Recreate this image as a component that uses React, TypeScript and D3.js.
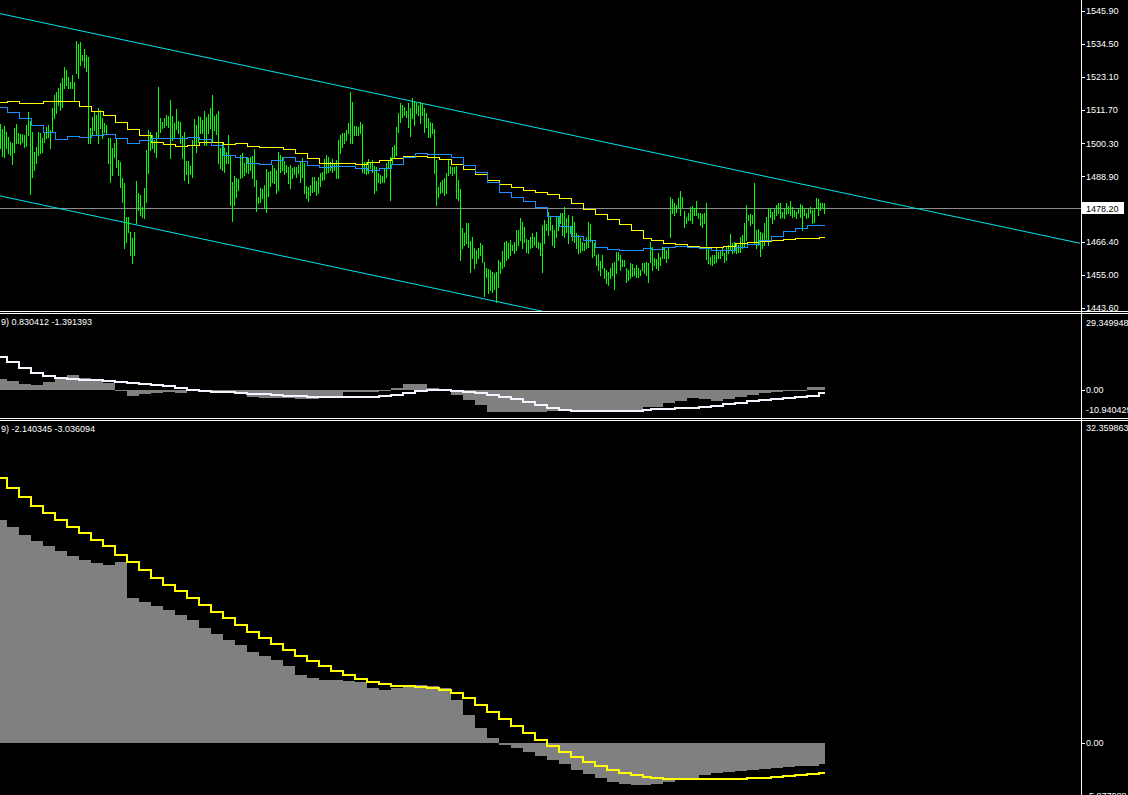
import React, { useEffect } from 'react';
import * as d3 from 'd3';

// ---------- DATA ----------
// Price bars (M5-like), high / low per bar
const HIGH = [
1506.9,1505.2,1506.3,1504.3,1502.6,1500.9,1500.4,1505.5,1506.9,1503.8,
1503.4,1503.6,1503.2,1506.7,1511.2,1508.0,1504.3,1497.5,1499.2,1504.3,
1503.8,1502.1,1504.3,1506.1,1506.7,1504.9,1512.4,1517.0,1518.1,1519.3,
1521.0,1522.7,1526.7,1525.6,1523.3,1521.6,1523.9,1521.6,1535.6,1534.4,
1535.3,1530.8,1532.8,1530.8,1530.2,1505.5,1509.5,1511.2,1510.1,1512.4,
1511.8,1509.0,1507.2,1506.7,1502.1,1502.1,1498.6,1500.4,1502.1,1494.6,
1494.0,1488.3,1486.6,1475.1,1475.1,1469.9,1467.6,1469.9,1487.4,1483.1,
1482.5,1478.5,1484.9,1498.0,1504.9,1504.3,1503.2,1501.5,1504.3,1519.8,
1509.0,1507.8,1509.2,1510.1,1509.7,
1515.3,1509.7,1507.4,1512.2,1508.1,1507.8,1502.9,1504.3,1494.3,1494.3,
1492.5,1501.5,1508.7,1506.7,1509.7,1509.5,1508.4,1511.5,1509.5,1510.3,
1512.4,1517.0,1509.7,1510.3,1511.5,1498.6,1500.4,1498.6,1497.5,1503.2,
1496.0,1487.1,1489.1,1488.3,1488.0,1496.3,1496.9,1493.5,1495.5,1495.2,
1495.7,1496.0,1498.3,1487.7,1482.0,1484.9,1484.5,1486.0,1491.4,1490.6,
1490.9,1492.9,1491.7,1491.2,1497.5,1496.3,1495.7,1494.3,1492.9,1492.3,
1492.9,1491.7,1492.1,1492.3,1492.9,1494.0,1495.2,1493.5,1485.6,1485.2,
1486.0,1488.8,1488.8,1487.5,1488.6,1490.2,1490.6,1494.8,1496.3,1495.7,
1494.0,1494.8,1493.5,
1494.6,1501.5,1503.2,1503.8,1504.0,1504.9,1507.2,1518.0,1514.6,1506.3,
1506.3,1506.1,1507.8,1507.0,1494.0,1494.0,1494.8,1493.7,1494.6,1492.5,
1492.3,1490.0,1489.4,1489.1,1491.7,1493.5,1494.6,1495.7,1499.2,1499.8,
1506.1,1510.7,1514.1,1513.5,1513.0,1511.6,1514.3,1512.4,1515.8,1514.7,
1514.1,1513.5,1514.7,1514.1,1512.4,1510.7,1509.0,1507.8,1507.4,1505.2,
1494.6,1485.4,1487.1,1487.7,1488.3,1490.0,1494.6,1492.5,1492.1,1492.1,
1492.5,1487.7,1484.5,1471.1,1469.4,1472.8,1472.8,1466.8,1468.2,1464.2,
1463.6,1464.2,1466.1,1465.3,1459.6,1457.3,1456.9,1456.7,1456.1,1455.6,
1456.1,1460.2,
1459.6,1463.3,1466.5,1466.7,1465.9,1467.0,1465.3,1466.5,1470.5,1470.5,
1474.7,1473.3,1471.6,1467.4,1467.0,1468.2,1469.4,1468.2,1469.7,1466.5,
1465.9,1472.2,1473.9,1472.4,1476.8,1475.1,1472.2,1470.5,1475.4,1475.1,
1476.2,1476.2,1478.5,1474.5,1475.7,1471.6,1475.4,1473.3,1469.4,1468.8,
1467.6,1466.5,1465.9,1468.2,1473.3,1472.4,1467.0,1465.9,1461.9,1462.1,
1459.8,1461.9,1457.5,1456.7,1456.1,1457.3,1459.0,1459.4,1463.0,1462.8,
1461.9,1460.2,1460.2,1457.3,1456.7,1459.0,1458.7,1457.5,1458.4,1457.3,
1456.7,1459.0,1459.0,1459.6,1459.0,1466.5,1464.7,1460.7,1460.5,1462.5,
1461.3,1464.7,1464.2,
1463.6,1464.7,1482.0,1481.1,1479.7,1479.1,1481.4,1484.0,1482.0,1477.1,
1475.1,1476.2,1478.3,1478.8,1478.0,1480.6,1476.2,1476.4,1476.0,1476.2,
1479.7,1463.8,1461.1,1461.9,1461.9,1464.2,1463.0,1463.6,1464.7,1462.5,
1464.7,1465.3,1469.1,1466.1,1466.5,1465.9,1465.3,1468.2,1468.8,1472.8,
1479.1,1475.7,1476.0,1475.7,1486.8,1470.5,1470.7,1469.9,1469.6,1472.8,
1475.1,1478.0,1478.0,1476.8,1477.6,1479.1,1479.7,1479.7,1476.8,1478.0,
1479.9,1478.8,1480.6,1478.3,1477.4,1476.8,1478.0,1479.4,1479.1,1478.0,
1476.2,1477.6,1478.5,1477.4,1478.0,1481.4,1481.1,1479.7,1479.7,1479.9
];

const LOW = [
1498.8,1496.1,1495.7,1498.6,1496.9,1496.3,1493.3,1497.5,1500.4,1500.4,
1500.0,1500.9,1499.0,1499.4,1503.2,1483.0,1488.8,1491.2,1493.5,1496.3,
1496.9,1497.5,1500.9,1502.1,1502.6,1498.6,1504.3,1509.0,1510.7,1513.5,
1511.8,1513.0,1519.3,1520.4,1519.3,1519.3,1519.3,1515.3,1524.5,1522.7,
1527.3,1529.0,1526.7,1525.2,1500.4,1500.4,1503.2,1504.9,1503.2,1500.4,
1505.5,1502.1,1504.3,1503.8,1493.5,1487.1,1489.4,1495.7,1492.3,1489.4,
1485.4,1480.2,1464.4,1466.5,1469.9,1461.9,1459.0,1461.9,1472.8,1477.4,
1475.7,1475.1,1474.5,1480.2,1490.0,1498.0,1498.6,1497.5,1495.7,1502.6,
1504.3,1505.5,1506.1,1506.7,1506.1,
1495.4,1501.5,1502.6,1505.2,1503.8,1500.4,1495.2,1487.7,1489.7,1486.8,
1489.7,1488.6,1499.8,1497.5,1500.9,1503.8,1503.8,1499.8,1499.8,1503.8,
1505.5,1500.9,1504.9,1503.6,1493.5,1491.7,1491.2,1490.6,1493.5,1493.5,
1479.1,1473.7,1479.1,1482.0,1484.3,1488.3,1488.8,1489.4,1490.6,1490.2,
1491.2,1488.3,1485.6,1477.1,1479.7,1480.2,1481.4,1478.0,1476.8,1482.2,
1485.6,1487.1,1486.6,1483.3,1484.3,1490.6,1491.2,1489.8,1490.6,1486.8,
1484.9,1488.3,1489.8,1488.8,1490.0,1487.1,1488.8,1483.1,1481.4,1480.6,
1482.5,1483.7,1484.0,1482.5,1483.1,1485.6,1487.7,1488.0,1490.2,1490.6,
1491.2,1490.6,1491.2,
1488.3,1488.3,1497.1,1499.2,1500.6,1501.5,1503.8,1500.4,1500.4,1503.2,
1503.2,1503.2,1503.8,1490.6,1490.0,1489.8,1490.0,1491.7,1490.6,1483.3,
1484.3,1487.1,1486.8,1487.1,1487.1,1488.8,1491.7,1480.8,1493.5,1495.2,
1496.3,1504.3,1507.8,1509.5,1510.1,1509.3,1506.1,1502.9,1509.0,1506.7,
1510.7,1510.1,1507.2,1510.1,1504.3,1506.1,1502.6,1502.6,1503.8,1490.2,
1479.1,1481.7,1483.1,1483.7,1482.5,1483.1,1489.4,1490.0,1489.4,1490.0,
1481.4,1480.8,1460.2,1464.2,1465.3,1465.9,1464.7,1456.1,1460.7,1457.3,
1459.0,1460.7,1461.9,1459.6,1447.8,1454.4,1448.7,1449.8,1449.2,1450.1,
1445.8,1451.0,
1455.6,1457.3,1457.9,1460.2,1460.7,1461.9,1463.6,1462.5,1463.6,1465.3,
1467.0,1464.2,1466.5,1463.0,1462.5,1464.2,1464.7,1465.3,1464.7,1464.2,
1461.9,1456.1,1465.9,1470.5,1468.8,1470.5,1465.3,1464.7,1468.2,1470.5,
1472.8,1468.8,1468.2,1469.9,1465.9,1469.4,1467.0,1466.5,1464.2,1462.5,
1463.0,1463.6,1463.6,1464.2,1464.7,1466.7,1461.3,1461.9,1458.4,1456.7,
1455.0,1457.3,1453.9,1452.1,1451.6,1453.9,1455.0,1450.2,1455.6,1460.2,
1456.7,1457.9,1457.9,1452.7,1453.3,1453.9,1454.7,1455.0,1454.4,1454.4,
1455.0,1456.7,1455.6,1455.0,1452.7,1459.4,1456.7,1458.4,1457.3,1456.7,
1458.4,1460.9,1460.9,
1459.6,1460.7,1468.2,1476.2,1475.7,1476.8,1478.5,1475.7,1478.5,1471.6,
1472.8,1473.9,1473.9,1472.8,1475.7,1475.7,1474.5,1472.2,1471.6,1472.8,
1460.4,1459.0,1458.8,1458.4,1459.0,1459.6,1460.7,1460.7,1461.9,1459.6,
1460.2,1462.5,1463.6,1462.5,1463.0,1462.7,1463.0,1463.0,1464.2,1464.7,
1467.0,1473.9,1472.2,1472.8,1466.1,1464.2,1465.3,1461.5,1464.2,1465.3,
1467.0,1465.3,1475.1,1472.8,1474.2,1475.7,1476.2,1474.5,1475.1,1474.5,
1476.0,1476.4,1475.7,1474.9,1475.3,1474.5,1476.2,1475.1,1470.5,1475.7,
1474.5,1475.1,1476.2,1472.8,1473.3,1477.9,1475.7,1477.4,1477.9,1476.4
];

// Higher-timeframe moving averages (one value per higher-timeframe period)
const MA_YELLOW = [
1514.7,1514.9,1514.2,1514.2,1514.8,1514.8,1514.8,1513.2,1511.4,1510.0,
1507.6,1505.2,1503.2,1500.7,1500.1,1499.4,1499.7,1500.7,1500.7,1500.1,
1500.4,1499.4,1499.0,1499.0,1498.3,1497.0,1495.2,1493.6,1493.5,1493.5,
1493.1,1493.8,1494.5,1495.2,1495.9,1495.9,1495.5,1494.8,1493.1,1491.4,
1489.7,1487.7,1486.3,1485.2,1484.3,1483.6,1482.8,1481.4,1479.8,1477.6,
1475.9,1474.3,1472.4,1470.5,1467.8,1467.0,1465.9,1465.6,1465.0,1464.5,
1464.5,1465.0,1465.9,1466.4,1466.6,1466.9,1467.3,1467.6,1467.7,1468.0
];
const MA_BLUE = [
1512.9,1511.0,1509.0,1506.5,1504.1,1501.7,1502.8,1502.4,1503.2,1503.7,
1502.1,1500.4,1501.4,1502.1,1502.1,1502.1,1502.6,1501.7,1499.8,1496.2,
1495.5,1493.5,1493.1,1494.5,1495.5,1494.2,1492.8,1492.1,1492.6,1492.6,
1491.7,1491.2,1491.7,1493.1,1495.7,1497.1,1496.7,1496.7,1495.5,1493.0,
1490.4,1486.9,1483.5,1482.0,1480.5,1478.5,1475.4,1472.0,1468.5,1467.0,
1464.5,1463.9,1463.5,1463.5,1464.2,1463.9,1464.7,1465.0,1464.7,1464.4,
1463.5,1463.5,1464.5,1465.7,1467.0,1468.3,1470.0,1471.1,1472.1,1472.1
];

// Indicator window 1 (MACD ... 9): histogram (main) and signal line
const MACD1_MAIN = [
4.22,3.42,2.23,1.83,3.14,4.22,5.82,4.62,4.10,2.74,
-0.45,-2.44,-1.88,-1.48,-1.09,-1.48,-0.69,-0.85,-0.85,-1.48,
-1.48,-2.84,-3.48,-3.48,-3.48,-3.88,-3.88,-3.08,-3.08,-0.97,
-0.97,-0.77,-0.57,0.51,2.11,2.11,0.75,0.11,-2.16,-4.16,
-6.15,-8.94,-8.94,-8.94,-8.94,-8.94,-8.35,-8.35,-7.95,-7.95,
-7.95,-7.95,-8.74,-8.74,-6.95,-6.95,-5.47,-4.56,-3.48,-3.88,
-4.56,-3.88,-2.84,-2.16,-1.48,-1.09,-0.57,-0.17,0.91,0.83
];
const MACD1_SIGNAL = [
13.12,11.12,8.73,6.73,5.54,4.74,4.22,3.94,3.82,3.30,
3.02,2.62,2.23,1.95,1.43,0.75,-0.17,-0.57,-0.85,-1.09,
-1.24,-1.64,-1.88,-2.16,-2.44,-2.56,-2.84,-2.96,-3.08,-3.08,
-2.96,-2.84,-2.56,-2.16,-1.24,-0.57,-0.17,-0.17,-0.45,-0.85,
-1.48,-2.16,-3.08,-3.88,-4.83,-6.15,-7.47,-8.15,-8.43,-8.43,
-8.43,-8.43,-8.43,-8.43,-8.15,-7.87,-7.87,-7.47,-7.23,-6.83,
-6.43,-5.87,-5.23,-4.68,-4.28,-3.88,-3.48,-3.08,-2.56,-1.39
];

// Indicator window 2
const MACD2_MAIN = [
22.56,21.85,21.04,20.43,19.93,19.42,18.92,18.51,18.21,18.01,
18.31,14.67,14.26,13.86,13.45,12.95,12.44,11.63,11.03,10.42,
9.91,9.21,8.80,8.40,7.79,6.88,6.58,6.37,6.37,6.27,
6.17,5.56,5.36,5.56,5.77,5.87,5.77,5.56,4.35,2.83,
1.52,0.51,-0.20,-0.51,-0.91,-1.32,-1.72,-2.12,-2.73,-3.14,
-3.54,-3.95,-4.15,-4.25,-4.25,-4.15,-3.95,-3.74,-3.54,-3.24,
-3.03,-2.93,-2.83,-2.73,-2.63,-2.53,-2.43,-2.33,-2.33,-2.14
];
const MACD2_SIGNAL = [
26.81,25.80,24.88,23.97,23.27,22.56,21.85,21.24,20.54,19.93,
19.02,18.31,17.50,16.69,15.98,15.38,14.67,13.96,13.25,12.64,
11.94,11.23,10.62,10.01,9.41,8.80,8.29,7.79,7.28,6.88,
6.47,6.17,5.97,5.77,5.77,5.66,5.56,5.36,5.06,4.55,
3.84,3.14,2.43,1.72,1.01,0.30,-0.30,-0.91,-1.42,-1.92,
-2.33,-2.73,-3.03,-3.24,-3.44,-3.54,-3.64,-3.64,-3.64,-3.64,
-3.64,-3.64,-3.64,-3.59,-3.54,-3.44,-3.34,-3.24,-3.14,-3.04
];

const PRICE_TICKS = [1545.90, 1534.50, 1523.10, 1511.70, 1500.30, 1488.90, 1466.40, 1455.00, 1443.60];
const LAST_PRICE = 1478.20;
// channel trend lines: [bar index, price]
const CHANNEL_UPPER = [[0, 1545.0], [540, 1465.9]];
const CHANNEL_LOWER = [[0, 1482.2], [540, 1403.1]];

const W1_MAX = 29.349948, W1_MIN = -10.940429;
const W1_TITLE = '9) 0.830412 -1.391393';
const W2_MAX = 32.359863, W2_MIN = -5.877988;
const W2_TITLE = '9) -2.140345 -3.036094';
const GAP_BAR = 322; // a higher-timeframe period with missing bars starts here

// ---------- CHART ----------
const W = 1128, H = 795, AX = 1081;
const FONT = 'Liberation Sans, Arial, sans-serif';

export default function App() {
  useEffect(() => {
    document.body.style.margin = '0';
    document.body.style.background = '#000';
  }, []);

  const N = HIGH.length;
  const x = d3.scaleLinear().domain([0, 540.5]).range([0, AX]);
  const yP = d3.scaleLinear().domain([1443.6, 1545.9]).range([308, 11]);
  const y1 = d3.scaleLinear().domain([W1_MIN, W1_MAX]).range([417, 316]);
  const y2 = d3.scaleLinear().domain([W2_MIN, W2_MAX]).range([801, 423]);

  const periodOf = (i: number) => (i < GAP_BAR ? Math.floor((i + 2) / 6) : Math.floor((i + 4) / 6));
  const starts: number[] = [];
  for (let i = 0; i < N; i++) {
    const p = periodOf(i);
    if (starts[p] === undefined) starts[p] = i;
  }
  const nSteps = starts.length;
  const sx0 = (k: number) => x(starts[k]) - 1;
  const sx1 = (k: number) => (k < nSteps - 1 ? x(starts[k + 1]) - 1 : x(N - 1) + 1);

  const stepPath = (vals: number[], y: any, odd: boolean) => {
    const pts: [number, number][] = vals.map((v, k) => [sx0(k), y(v)]);
    pts.push([sx1(vals.length - 1), y(vals[vals.length - 1])]);
    return d3
      .line<[number, number]>()
      .x((d) => d[0])
      .y((d) => (odd ? Math.round(d[1]) + 0.5 : Math.round(d[1])))
      .curve(d3.curveStepAfter)(pts) as string;
  };

  const hist = (vals: number[], y: any) =>
    vals.map((v, k) => {
      const a = Math.round(y(0));
      const b = Math.round(y(v));
      return (
        <rect key={k} x={sx0(k)} width={sx1(k) - sx0(k)} y={Math.min(a, b)} height={Math.max(1, Math.abs(a - b))} fill="#808080" shapeRendering="crispEdges" />
      );
    });

  const chanLine = d3
    .line<number[]>()
    .x((d) => x(d[0]))
    .y((d) => yP(d[1]));

  const lastY = Math.round(yP(LAST_PRICE)) + 0.5;

  const label = (txt: string, yy: number, key: string, tick: boolean) => (
    <g key={key}>
      {tick && <line x1={AX + 1} x2={AX + 4} y1={Math.round(yy) + 0.5} y2={Math.round(yy) + 0.5} stroke="#fff" />}
      <text x={AX + 5} y={yy} dy="0.35em" fill="#fff" fontSize={9} fontFamily={FONT}>
        {txt}
      </text>
    </g>
  );

  return (
    <svg width={W} height={H} style={{ position: 'fixed', left: 0, top: 0, background: '#000' }}>
      <defs>
        <clipPath id="cMain"><rect x={0} y={0} width={AX} height={311} /></clipPath>
        <clipPath id="c1"><rect x={0} y={314} width={AX} height={104} /></clipPath>
        <clipPath id="c2"><rect x={0} y={421} width={AX} height={H - 421} /></clipPath>
      </defs>
      <rect x={0} y={0} width={W} height={H} fill="#000" />

      {/* main window */}
      <g clipPath="url(#cMain)">
        <line x1={0} x2={AX} y1={lastY} y2={lastY} stroke="#8c8c8c" />
        <path d={chanLine(CHANNEL_UPPER) as string} stroke="#00e5ee" fill="none" strokeWidth={1} />
        <path d={chanLine(CHANNEL_LOWER) as string} stroke="#00e5ee" fill="none" strokeWidth={1} />
        <g shapeRendering="crispEdges" stroke="#00ff00" strokeWidth={1}>
          {HIGH.map((h, i) => (
            <line key={i} x1={x(i) + 0.5} x2={x(i) + 0.5} y1={Math.round(yP(h))} y2={Math.round(yP(LOW[i])) + 1} />
          ))}
        </g>
        <path d={stepPath(MA_YELLOW, yP, true)} stroke="#ffff00" fill="none" strokeWidth={1} shapeRendering="crispEdges" />
        <path d={stepPath(MA_BLUE, yP, true)} stroke="#1e90ff" fill="none" strokeWidth={1} shapeRendering="crispEdges" />
      </g>

      {/* window 1 */}
      <g clipPath="url(#c1)">
        {hist(MACD1_MAIN, y1)}
        <path d={stepPath(MACD1_SIGNAL, y1, false)} stroke="#f4f4ff" fill="none" strokeWidth={2} shapeRendering="crispEdges" />
      </g>
      <text x={1} y={322} dy="0.35em" fill="#fff" fontSize={9} fontFamily={FONT}>{W1_TITLE}</text>

      {/* window 2 */}
      <g clipPath="url(#c2)">
        {hist(MACD2_MAIN, y2)}
        <path d={stepPath(MACD2_SIGNAL, y2, false)} stroke="#ffff00" fill="none" strokeWidth={2} shapeRendering="crispEdges" />
      </g>
      <text x={1} y={429} dy="0.35em" fill="#fff" fontSize={9} fontFamily={FONT}>{W2_TITLE}</text>

      {/* separators */}
      <g stroke="#fff" shapeRendering="crispEdges">
        <line x1={0} x2={W} y1={311.5} y2={311.5} />
        <line x1={0} x2={W} y1={313.5} y2={313.5} />
        <line x1={0} x2={W} y1={418.5} y2={418.5} />
        <line x1={0} x2={W} y1={420.5} y2={420.5} />
        <line x1={AX + 0.5} x2={AX + 0.5} y1={0} y2={H} />
      </g>

      {/* price axis */}
      {PRICE_TICKS.map((p) => label(p.toFixed(2), yP(p), 'p' + p, true))}
      <rect x={AX + 1} y={lastY - 6.5} width={42} height={12} fill="#fff" />
      <text x={AX + 5} y={lastY} dy="0.35em" fill="#000" fontSize={9} fontFamily={FONT}>{LAST_PRICE.toFixed(2)}</text>

      {/* window scales */}
      {label(W1_MAX.toFixed(6), 323, 'w1max', false)}
      {label((0).toFixed(2), y1(0), 'w1z', true)}
      {label(W1_MIN.toFixed(6), 410, 'w1min', false)}
      {label(W2_MAX.toFixed(6), 428, 'w2max', false)}
      {label((0).toFixed(2), y2(0), 'w2z', true)}
      {label(W2_MIN.toFixed(6), 796, 'w2min', false)}
    </svg>
  );
}
